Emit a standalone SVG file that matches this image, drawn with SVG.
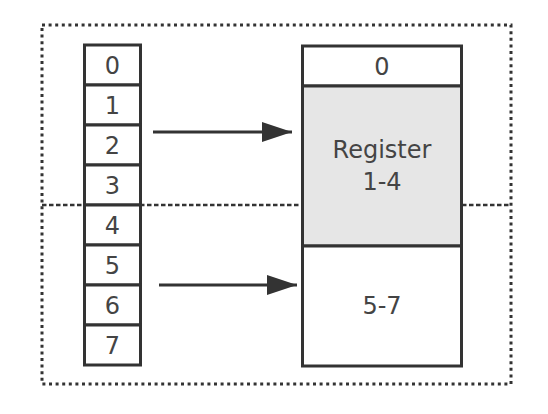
<svg xmlns="http://www.w3.org/2000/svg" width="548" height="414" viewBox="0 0 548 414">
<style>
.frame{fill:none;stroke:#333;stroke-width:3;stroke-dasharray:3 3.6}
.split{fill:none;stroke:#333;stroke-width:2.5;stroke-dasharray:4.5 2.5}
.cell{fill:#fff;stroke:#333;stroke-width:3}
.reg{fill:#e6e6e6;stroke:#333;stroke-width:3}
.lbl{font-family:"DejaVu Sans",sans-serif;font-size:24px;fill:#444;text-anchor:middle}
.conn{stroke:#333;stroke-width:3;fill:none}
</style>
<defs>
<marker id="ah" markerUnits="userSpaceOnUse" markerWidth="32" markerHeight="22" refX="30" refY="10" orient="auto">
<path d="M0,0 L30,10 L0,20 Z" fill="#333"/>
</marker>
</defs>
<g id="frame">
<rect class="frame" x="42" y="25" width="469" height="359"/>
<line class="split" x1="42" y1="205" x2="511" y2="205"/>
</g>
<g id="stack">
<rect class="cell" x="84.5" y="45" width="56" height="40"/>
<text class="lbl" x="112.5" y="73.5">0</text>
<rect class="cell" x="84.5" y="85" width="56" height="40"/>
<text class="lbl" x="112.5" y="113.5">1</text>
<rect class="cell" x="84.5" y="125" width="56" height="40"/>
<text class="lbl" x="112.5" y="153.5">2</text>
<rect class="cell" x="84.5" y="165" width="56" height="40"/>
<text class="lbl" x="112.5" y="193.5">3</text>
<rect class="cell" x="84.5" y="205" width="56" height="40"/>
<text class="lbl" x="112.5" y="233.5">4</text>
<rect class="cell" x="84.5" y="245" width="56" height="40"/>
<text class="lbl" x="112.5" y="273.5">5</text>
<rect class="cell" x="84.5" y="285" width="56" height="40"/>
<text class="lbl" x="112.5" y="313.5">6</text>
<rect class="cell" x="84.5" y="325" width="56" height="40"/>
<text class="lbl" x="112.5" y="353.5">7</text>
</g>
<g id="reg0">
<rect class="cell" x="302.5" y="46" width="159" height="40"/>
<text class="lbl" x="382" y="74.5">0</text>
</g>
<g id="reg14">
<rect class="reg" x="302.5" y="86" width="159" height="160"/>
<text class="lbl" x="382" y="158">Register</text>
<text class="lbl" x="382" y="190">1-4</text>
</g>
<g id="reg57">
<rect class="cell" x="302.5" y="246" width="159" height="120"/>
<text class="lbl" x="382" y="314">5-7</text>
</g>
<g id="connectors">
<line class="conn" x1="153" y1="132" x2="292" y2="132" marker-end="url(#ah)"/>
<line class="conn" x1="159" y1="285" x2="297" y2="285" marker-end="url(#ah)"/>
</g>
</svg>
